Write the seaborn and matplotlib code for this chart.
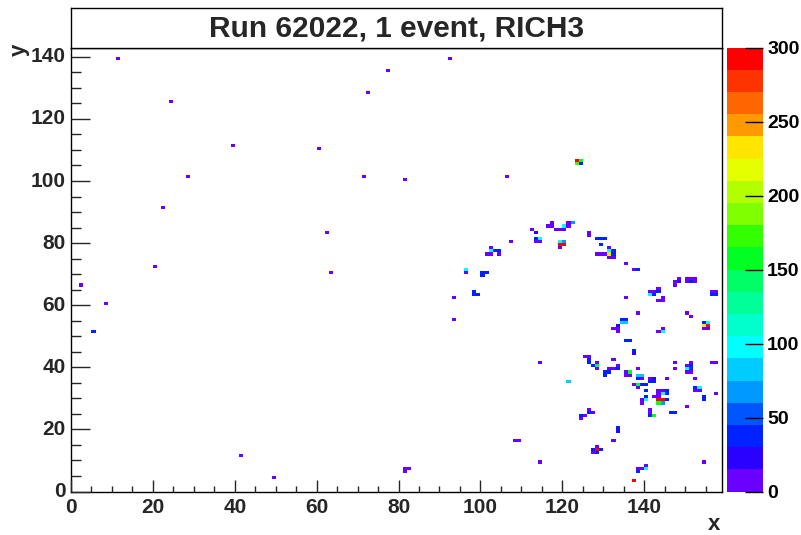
import numpy as np
import matplotlib
matplotlib.use("Agg")
import matplotlib.pyplot as plt
from matplotlib.colors import ListedColormap
from matplotlib.ticker import MultipleLocator
import seaborn as sns

# histogram layout: 159 x-bins (0..159), 143 y-bins (0..143)
n_x = 159
n_y = 143

# fired cells: bin x, bin y, adc content
hit_x = [11, 24, 28, 39, 60, 72, 77, 71, 81, 92, 106,
         22, 62, 20, 63, 2, 8, 5, 41, 49, 81, 82, 81,
         93, 93, 114, 114, 108, 109,
         123, 124, 123, 124,
         96, 96, 100, 101, 100, 98, 98, 99,
         101, 102, 104, 102, 102, 103, 104,
         107, 112, 113, 113, 114, 113, 114,
         116, 117, 117, 118, 119, 120, 120, 121, 121, 122,
         119, 120, 119, 120, 119,
         126, 126, 128, 129, 130, 129,
         131, 131, 132, 131, 132, 131, 132, 128, 129, 130,
         135, 137, 138,
         148, 148, 147, 147,
         150, 150, 151, 151, 152, 152,
         156, 157, 156, 157,
         141, 142, 143, 143, 141, 142,
         144, 143, 144, 135, 138, 150, 151,
         154, 155, 154, 155, 154, 155,
         134, 135, 134, 135, 133, 132, 133, 133,
         144, 143, 144,
         135, 136, 137, 137,
         127, 128, 128, 132, 128,
         133, 133, 131, 132, 131, 130, 130,
         135, 136, 135, 136, 138,
         138, 139, 138, 139, 137, 138, 139, 140, 138, 141, 142, 141, 142,
         140, 145,
         143, 144, 145, 143, 144, 145, 142, 143, 143, 144, 145, 143, 144,
         139, 139, 140, 140,
         141, 141, 141, 142, 146, 147, 150, 154, 154,
         152, 153, 152, 153, 152,
         151, 150, 151, 150, 151, 150, 151,
         147, 147, 156, 157, 157,
         125, 126, 126, 126,
         121,
         126, 126, 127, 124, 125, 124,
         133, 133, 132,
         128, 127, 128, 129, 127, 128,
         154, 140, 138, 139, 140, 138, 137]
hit_y = [139, 125, 101, 111, 110, 128, 135, 101, 100, 139, 101,
         91, 83, 72, 70, 66, 60, 51, 11, 4, 7, 7, 6,
         62, 55, 41, 9, 16, 16,
         106, 106, 105, 105,
         71, 70, 70, 70, 69, 64, 63, 63,
         76, 76, 76, 78, 77, 77, 77,
         80, 84, 83, 81, 81, 80, 80,
         85, 85, 86, 84, 84, 84, 85, 86, 85, 86,
         80, 80, 79, 79, 78,
         83, 82, 81, 81, 81, 79,
         78, 77, 77, 76, 76, 75, 75, 76, 76, 76,
         73, 71, 71,
         68, 67, 67, 66,
         68, 67, 68, 67, 68, 67,
         64, 64, 63, 63,
         64, 64, 65, 64, 63, 63,
         62, 61, 61, 62, 57, 57, 56,
         54, 54, 53, 53, 52, 52,
         55, 55, 54, 54, 53, 52, 52, 51,
         52, 51, 51,
         48, 48, 45, 44,
         40, 40, 39, 42, 41,
         40, 39, 39, 39, 38, 38, 37,
         38, 38, 37, 37, 39,
         37, 37, 36, 36, 34, 34, 34, 34, 33, 36, 36, 35, 35,
         32, 36,
         32, 32, 32, 31, 31, 31, 30, 30, 29, 29, 29, 28, 28,
         29, 28, 29, 30,
         26, 25, 24, 24, 25, 25, 27, 30, 29,
         33, 33, 32, 32, 36,
         41, 40, 40, 39, 39, 38, 38,
         41, 39, 41, 41, 31,
         43, 43, 42, 41,
         35,
         26, 25, 25, 24, 24, 23,
         20, 19, 16,
         14, 13, 13, 13, 12, 12,
         9, 8, 7, 7, 7, 6, 3]
hit_adc = [8, 8, 8, 8, 8, 8, 8, 8, 8, 8, 8,
           8, 8, 8, 8, 8, 8, 38, 8, 8, 8, 8, 8,
           8, 8, 8, 8, 8, 8,
           292, 158, 165, 38,
           98, 8, 38, 38, 38, 38, 38, 38,
           8, 8, 8, 8, 98, 38, 38,
           8, 8, 22, 38, 98, 8, 8,
           8, 8, 8, 8, 8, 8, 98, 8, 8, 70,
           98, 70, 292, 292, 8,
           8, 8, 38, 38, 38, 38,
           8, 98, 38, 232, 38, 8, 8, 8, 8, 8,
           8, 8, 38,
           8, 22, 8, 8,
           8, 8, 8, 38, 8, 8,
           8, 8, 38, 38,
           8, 8, 8, 38, 98, 38,
           8, 8, 8, 8, 8, 8, 8,
           38, 98, 232, 292, 8, 8,
           38, 38, 75, 80, 22, 8, 8, 8,
           8, 8, 98,
           38, 38, 38, 22,
           38, 158, 8, 8, 8,
           8, 38, 8, 8, 38, 38, 38,
           8, 158, 8, 8, 8,
           75, 75, 38, 8, 8, 158, 38, 38, 8, 8, 22, 38, 38,
           38, 8,
           8, 8, 38, 8, 98, 38, 8, 8, 292, 292, 38, 158, 70,
           8, 8, 98, 38,
           8, 8, 38, 158, 38, 38, 8, 38, 38,
           38, 98, 8, 8, 8,
           8, 8, 38, 98, 38, 8, 8,
           8, 8, 8, 8, 8,
           8, 8, 38, 38,
           75,
           8, 38, 8, 38, 8, 8,
           38, 22, 8,
           8, 38, 292, 38, 8, 38,
           8, 8, 8, 8, 98, 38, 292]

# ROOT style 20-level rainbow palette (bottom to top)
palette = ['#6a00ff', '#2a00ff', '#0022ff', '#0055ff', '#0099ff',
           '#00ccff', '#00ffff', '#00ffcc', '#00ff99', '#00ff66',
           '#00ff22', '#33ff00', '#80ff00', '#b3ff00', '#e6ff00',
           '#ffe600', '#ff9900', '#ff6600', '#ff3300', '#ff0000']

x_ticks = [0, 20, 40, 60, 80, 100, 120, 140]
y_ticks = [0, 20, 40, 60, 80, 100, 120, 140]
z_ticks = [0, 50, 100, 150, 200, 250, 300]

grid = np.zeros((n_y, n_x))
for x, y, v in zip(hit_x, hit_y, hit_adc):
    grid[y, x] = v

sns.set_style("white")
plt.rcParams['font.family'] = ['Liberation Sans', 'DejaVu Sans']
plt.rcParams['font.weight'] = 'bold'

fig = plt.figure(figsize=(8.01, 5.35), dpi=100)
ax = fig.add_axes([71 / 801, 1 - 491.5 / 535, 651 / 801, 444 / 535])
cax = fig.add_axes([727 / 801, 1 - 491.5 / 535, 36 / 801, 444 / 535])

sns.heatmap(grid, mask=(grid == 0), cmap=ListedColormap(palette),
            vmin=0, vmax=300, ax=ax, cbar_ax=cax, linewidths=0)

ax.set_xlim(0, n_x)
ax.set_ylim(0, n_y)
ax.set_axisbelow(False)
for s in ax.spines.values():
    s.set_visible(True)
    s.set_color('black')
    s.set_linewidth(1.0)

ax.set_xticks(x_ticks)
ax.set_xticklabels([str(t) for t in x_ticks], rotation=0)
ax.set_yticks(y_ticks)
ax.set_yticklabels([str(t) for t in y_ticks], rotation=0)
ax.xaxis.set_minor_locator(MultipleLocator(5))
ax.yaxis.set_minor_locator(MultipleLocator(5))
ax.tick_params(axis='x', which='major', direction='in', length=9, width=1,
               labelsize=15, pad=5, bottom=True, top=False)
ax.tick_params(axis='x', which='minor', direction='in', length=4.5, width=1,
               bottom=True, top=False)
ax.tick_params(axis='y', which='major', direction='in', length=14, width=1,
               labelsize=15, pad=4, left=True, right=False)
ax.tick_params(axis='y', which='minor', direction='in', length=7, width=1,
               left=True, right=False)
for lab in ax.get_xticklabels() + ax.get_yticklabels():
    lab.set_fontweight('bold')
ax.set_xlabel('')
ax.set_ylabel('')

cbar = ax.collections[0].colorbar
cbar.set_ticks(z_ticks)
cbar.set_ticklabels([str(t) for t in z_ticks])
cbar.outline.set_visible(False)
cax.set_axisbelow(False)
cax.tick_params(direction='in', length=13, width=1, labelsize=14, pad=3,
                colors='black')
for lab in cax.get_yticklabels():
    lab.set_fontweight('bold')

# title box
tax = fig.add_axes([71 / 801, 1 - 47.5 / 535, 651 / 801, 39.5 / 535])
tax.set_xticks([])
tax.set_yticks([])
for s in tax.spines.values():
    s.set_visible(True)
    s.set_color('black')
    s.set_linewidth(1.0)
tax.text(0.5, 0.47, 'Run 62022, 1 event, RICH3', ha='center', va='center',
         fontsize=21.5, fontweight='bold', transform=tax.transAxes)

fig.text(720 / 801, 1 - 525 / 535, 'x', ha='right', va='center',
         fontsize=16, fontweight='bold')
fig.text(19 / 801, 1 - 50 / 535, 'y', ha='center', va='center',
         rotation=90, fontsize=16, fontweight='bold')

fig.savefig('out.png', dpi=100)
